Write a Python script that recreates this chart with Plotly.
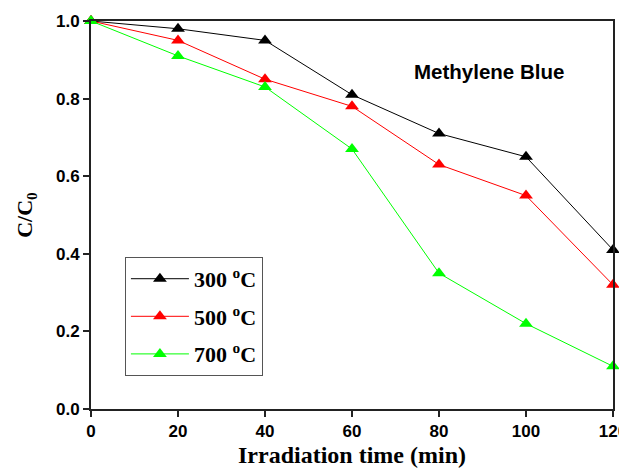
import plotly.graph_objects as go

time_min = [0, 20, 40, 60, 80, 100, 120]
c300 = [1.0, 0.98, 0.95, 0.81, 0.71, 0.65, 0.41]
c500 = [1.0, 0.95, 0.85, 0.78, 0.63, 0.55, 0.32]
c700 = [1.0, 0.91, 0.83, 0.67, 0.35, 0.22, 0.11]
series_names = ["300 <sup>o</sup>C", "500 <sup>o</sup>C", "700 <sup>o</sup>C"]
series_colors = ["#000000", "#ff0000", "#00ff00"]
x_ticks = [0, 20, 40, 60, 80, 100, 120]
y_ticks = [0.0, 0.2, 0.4, 0.6, 0.8, 1.0]

fig = go.Figure()
for i, (name, ys, col) in enumerate(zip(series_names, [c300, c500, c700], series_colors)):
    fig.add_trace(go.Scatter(
        x=time_min, y=ys, name="<b>" + name + "</b>", mode="lines+markers",
        line=dict(color=col, width=1),
        marker=dict(symbol="triangle-up", size=12, color=col),
        cliponaxis=False, legendgroup="g%d" % i,
    ))

serif = "Times New Roman, Liberation Serif, serif"
sans = "Arial, Liberation Sans, sans-serif"
axis_font = dict(family=sans, size=17, color="black", weight="bold")

# page body adds an 8px offset; the figure is sized so the plot lands where the reference has it
fig.update_layout(
    width=627, height=466,
    margin=dict(l=83, r=22, t=13, b=65),
    paper_bgcolor="white", plot_bgcolor="white",
    showlegend=True,
    legend=dict(
        x=0.065, y=0.392, xanchor="left", yanchor="top",
        bordercolor="#555555", borderwidth=1, bgcolor="white",
        font=dict(family=serif, size=22, color="black"),
        itemwidth=58, tracegroupgap=6,
    ),
    xaxis=dict(
        range=[0, 120], tickvals=x_ticks, ticktext=[str(v) for v in x_ticks],
        showgrid=False, zeroline=False, automargin=False,
        showline=True, linecolor="#222222", linewidth=2, mirror=True,
        ticks="outside", ticklen=6, tickwidth=2, tickcolor="#222222",
        tickfont=axis_font,
        title=dict(text="<b>Irradiation time (min)</b>", standoff=6,
                   font=dict(family=serif, size=24, color="black")),
    ),
    yaxis=dict(
        range=[0, 1.0], tickvals=y_ticks, ticktext=["%.1f" % v for v in y_ticks],
        showgrid=False, zeroline=False, automargin=False,
        showline=True, linecolor="#222222", linewidth=2, mirror=True,
        ticks="outside", ticklen=6, tickwidth=2, tickcolor="#222222",
        tickfont=axis_font,
        title=dict(text="<b>C/C<sub>0</sub></b>", standoff=17,
                   font=dict(family=serif, size=22, color="black")),
    ),
    annotations=[dict(
        x=0.615, y=0.871, xref="paper", yref="paper", xanchor="left", yanchor="middle",
        text="<b>Methylene Blue</b>", showarrow=False,
        font=dict(family=sans, size=20.5, color="black"),
    )],
)

fig.write_html("out.html")
